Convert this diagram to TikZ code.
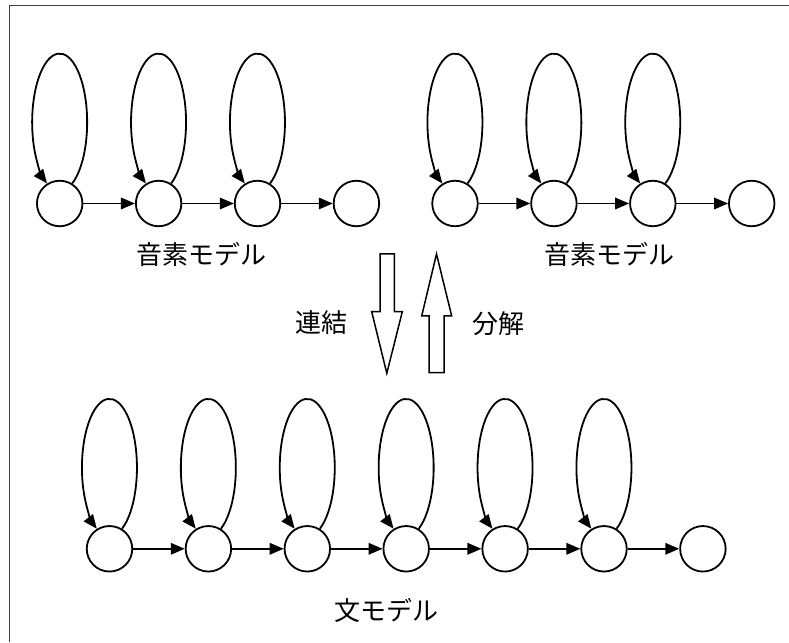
\documentclass[tikz,border=0pt]{standalone}
\usepackage{fontspec}
\newfontfamily\jpfont{Noto Sans CJK JP}
\usetikzlibrary{arrows.meta}
\begin{document}
\begin{tikzpicture}[x=1pt,y=1pt,
  state/.style={circle,draw,line width=1.8pt,minimum size=45.5pt,inner sep=0pt},
  conn/.style={line width=1.8pt,-{Triangle[length=14pt,width=11.5pt]}},
  lbl/.style={font=\jpfont\fontsize{26}{30}\selectfont,inner sep=0pt},
  blk/.style={draw,line width=1.5pt,line join=miter}]
\useasboundingbox (0,0) rectangle (789,642);
\draw[line width=1pt,black!75] (9,0) -- (9,636.5) -- (789,636.5);
% top-left chain
\foreach \i/\x in {1/59.7,2/158.6,3/257.5,4/356.4}
  \node[state] (a\i) at (\x,438.5) {};
% top-right chain
\foreach \i/\x in {1/455,2/553.9,3/652.8,4/751.7}
  \node[state] (b\i) at (\x,438.5) {};
% bottom chain
\foreach \i/\x in {1/109.5,2/208.4,3/307.3,4/406.2,5/505.1,6/604,7/702.9}
  \node[state] (c\i) at (\x,93.2) {};
% horizontal connectors
\foreach \p/\q in {a1/a2,a2/a3,a3/a4,b1/b2,b2/b3,b3/b4,c1/c2,c2/c3,c3/c4,c4/c5,c5/c6,c6/c7}
  \draw[conn] (\p) -- (\q);
% self loops
\foreach \n in {a1,a2,a3,b1,b2,b3,c1,c2,c3,c4,c5,c6}
  \draw[conn] (\n.58) arc[start angle=-62.76,end angle=242.76,x radius=27.5pt,y radius=68.75pt];
% labels
\node[lbl] (la) at (201.5,388) {音素モデル};
\node[lbl] (lb) at (609,388) {音素モデル};
\node[lbl] (lc) at (386,32) {文モデル};
\node[lbl] (lj) at (321,319) {連結};
\node[lbl] (ld) at (498.3,318.7) {分解};
% block arrows
\draw[blk] (380,388) -- (394.3,388) -- (394.3,330.3) -- (402.3,330.3) -- (386.8,268.7) -- (371.7,330.3) -- (380,330.3) -- cycle;
\draw[blk] (429,269.3) -- (444,269.3) -- (444,326) -- (451.7,326) -- (436.5,388) -- (421.7,326) -- (429,326) -- cycle;
\end{tikzpicture}
\end{document}
